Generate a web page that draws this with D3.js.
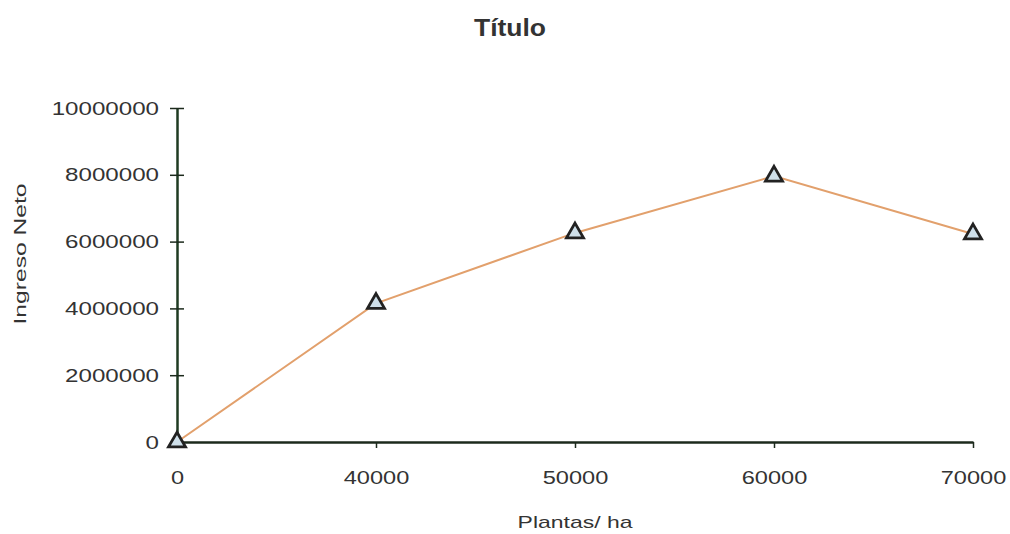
<!DOCTYPE html>
<html>
<head>
<meta charset="utf-8">
<script src="https://cdn.jsdelivr.net/npm/d3@7"></script>
<style>
body { margin: 0; background: #fff; }
text { font-family: "Liberation Sans", Arial, sans-serif; }
</style>
</head>
<body>
<script>
var plantas = ["0", "40000", "50000", "60000", "70000"];
var ingreso = [0, 4150000, 6260000, 7960000, 6230000];
var yTicks = [0, 2000000, 4000000, 6000000, 8000000, 10000000];

var width = 1010;
var height = 534;
var padding = { top: 108, right: 37, bottom: 92, left: 177 };

var svg = d3.select("body")
    .append("svg")
    .attr("width", width)
    .attr("height", height);

var xScale = d3.scalePoint()
    .domain(plantas)
    .range([padding.left, width - padding.right]);
var yScale = d3.scaleLinear()
    .domain([0, 10000000])
    .range([height - padding.bottom, padding.top]);

// stretch text horizontally like the scanned original
function stretch(sel, k) {
    sel.each(function() {
        var w = this.getComputedTextLength();
        this.setAttribute("textLength", w * k);
        this.setAttribute("lengthAdjust", "spacingAndGlyphs");
    });
}

var axisColor = "#1c2a1c";

var xAxis = d3.axisBottom(xScale)
    .tickSizeInner(6)
    .tickSizeOuter(0)
    .tickPadding(23);
var xAxisG = svg.append("g")
    .attr("transform", "translate(0," + (height - padding.bottom) + ")")
    .call(xAxis);
xAxisG.select(".domain").attr("stroke", axisColor).attr("stroke-width", 2.5);
xAxisG.selectAll(".tick line").attr("stroke", axisColor).attr("stroke-width", 1.5);
xAxisG.selectAll(".tick text")
    .attr("font-size", "19px")
    .attr("fill", "#333");
stretch(xAxisG.selectAll(".tick text"), 1.24);

var yAxis = d3.axisLeft(yScale)
    .tickValues(yTicks)
    .tickFormat(d3.format("d"))
    .tickSizeOuter(0)
    .tickPadding(12);
var yAxisG = svg.append("g")
    .attr("transform", "translate(" + padding.left + ",0)")
    .call(yAxis);
yAxisG.select(".domain").attr("stroke", "#1f3b22").attr("stroke-width", 2.5);
yAxisG.selectAll(".tick line")
    .attr("x1", -7)
    .attr("x2", 7)
    .attr("stroke", axisColor)
    .attr("stroke-width", 1.5);
yAxisG.selectAll(".tick text")
    .attr("font-size", "19px")
    .attr("fill", "#333");
stretch(yAxisG.selectAll(".tick text"), 1.27);

var data = plantas.map(function(p, i) { return [p, ingreso[i]]; });

var line = d3.line()
    .x(function(d) { return xScale(d[0]); })
    .y(function(d) { return yScale(d[1]); });

svg.append("path")
    .datum(data)
    .attr("fill", "none")
    .attr("stroke", "#e2a06c")
    .attr("stroke-width", 2)
    .attr("d", line);

var tri = d3.symbol().type(d3.symbolTriangle).size(125);
svg.selectAll(".marker")
    .data(data)
    .enter()
    .append("path")
    .attr("class", "marker")
    .attr("d", tri)
    .attr("transform", function(d) {
        return "translate(" + xScale(d[0]) + "," + yScale(d[1]) + ")";
    })
    .attr("fill", "#cfe0ea")
    .attr("stroke", "#222")
    .attr("stroke-width", 2.8);

var title = svg.append("text")
    .attr("x", 510)
    .attr("y", 36)
    .attr("text-anchor", "middle")
    .attr("font-size", "23px")
    .attr("font-weight", "bold")
    .attr("fill", "#333")
    .text("Título");
stretch(title, 1.15);

var xLabel = svg.append("text")
    .attr("x", 575)
    .attr("y", 528)
    .attr("text-anchor", "middle")
    .attr("font-size", "17px")
    .attr("fill", "#333")
    .text("Plantas/ ha");
stretch(xLabel, 1.35);

var yLabel = svg.append("text")
    .attr("transform", "translate(26,254) rotate(-90)")
    .attr("text-anchor", "middle")
    .attr("font-size", "17px")
    .attr("fill", "#333")
    .text("Ingreso Neto");
stretch(yLabel, 1.45);
</script>
</body>
</html>
